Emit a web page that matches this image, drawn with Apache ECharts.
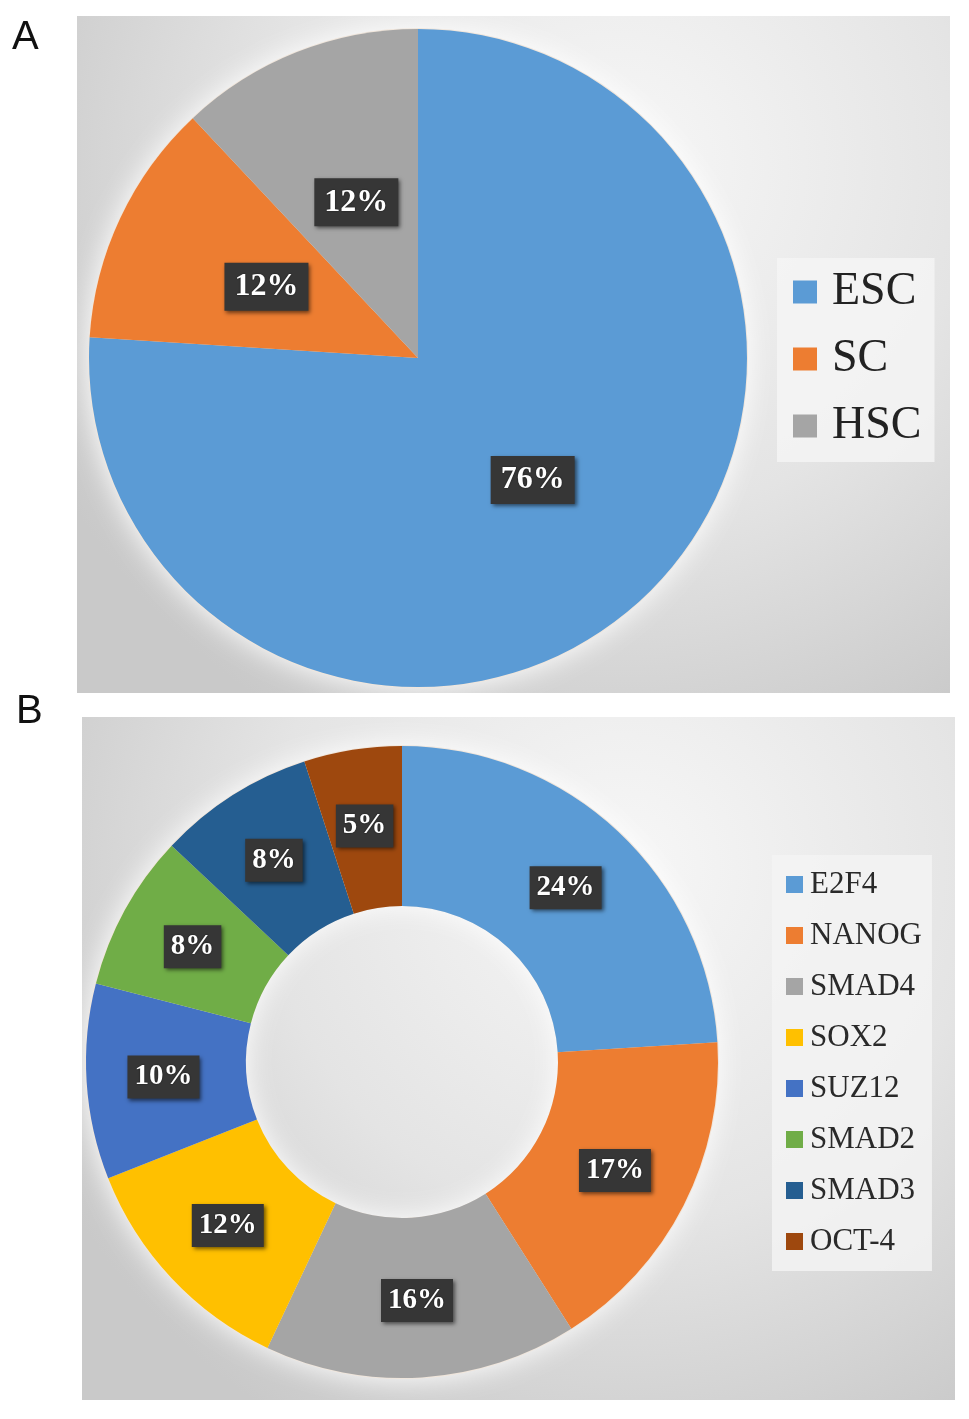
<!DOCTYPE html>
<html>
<head>
<meta charset="utf-8">
<script src="https://cdn.jsdelivr.net/npm/echarts@6/dist/echarts.min.js"></script>
<style>
html,body{margin:0;padding:0;background:#ffffff;}
#chart{width:969px;height:1419px;}
</style>
</head>
<body>
<div id="chart"></div>
<script>
// Panel A data
var catsA = ['ESC', 'SC', 'HSC'];
var valsA = [76, 12, 12];
var colorsA = ['#5B9BD5', '#ED7D31', '#A5A5A5'];

// Panel B data
var catsB = ['E2F4', 'NANOG', 'SMAD4', 'SOX2', 'SUZ12', 'SMAD2', 'SMAD3', 'OCT-4'];
var valsB = [24, 17, 16, 12, 10, 8, 8, 5];
var colorsB = ['#5B9BD5', '#ED7D31', '#A5A5A5', '#FFC000', '#4472C4', '#70AD47', '#255E91', '#9E480E'];

var chart = echarts.init(document.getElementById('chart'), null, {renderer: 'canvas'});

function mkData(cats, vals, colors) {
  return cats.map(function (c, i) {
    return {name: c, value: vals[i], itemStyle: {color: colors[i]}};
  });
}

function labelStyle(fs, pad) {
  return {
    show: true,
    position: 'inside',
    formatter: '{c}%',
    color: '#ffffff',
    fontFamily: 'Liberation Serif',
    fontWeight: 'bold',
    fontSize: fs,
    lineHeight: fs + 2,
    backgroundColor: '#363636',
    padding: pad,
    shadowColor: 'rgba(0,0,0,0.55)',
    shadowBlur: 4,
    shadowOffsetX: 2,
    shadowOffsetY: 2,
    textShadowColor: 'rgba(0,0,0,0.6)',
    textShadowBlur: 2
  };
}

function panelBg(x, y, w, h) {
  return {
    type: 'rect',
    z: -10,
    silent: true,
    shape: {x: x, y: y, width: w, height: h},
    style: {
      fill: new echarts.graphic.RadialGradient(0.62, 0.22, 0.95, [
        {offset: 0, color: '#f7f7f7'},
        {offset: 0.55, color: '#e4e4e4'},
        {offset: 1, color: '#c9c9c9'}
      ])
    }
  };
}

var option = {
  backgroundColor: '#ffffff',
  animation: false,
  graphic: [
    panelBg(77, 16, 873, 677),
    panelBg(82, 717, 873, 683),
    {type: 'text', left: 12, top: 18, style: {text: 'A', fontSize: 40, fontFamily: 'Liberation Sans', fill: '#111'}},
    {type: 'text', left: 16, top: 692, style: {text: 'B', fontSize: 40, fontFamily: 'Liberation Sans', fill: '#111'}}
  ],
  legend: [
    {
      orient: 'vertical',
      left: 777,
      top: 258,
      padding: [11, 13, 13, 16],
      backgroundColor: 'rgba(245,245,245,0.85)',
      data: catsA,
      icon: 'rect',
      itemWidth: 24,
      itemHeight: 23,
      itemGap: 21,
      selectedMode: false,
      textStyle: {fontFamily: 'Liberation Serif', fontSize: 46, color: '#222', padding: [0, 0, 0, 10]}
    },
    {
      orient: 'vertical',
      left: 772,
      top: 855,
      padding: [14, 10, 14, 14],
      backgroundColor: 'rgba(243,243,243,0.85)',
      data: catsB,
      icon: 'rect',
      itemWidth: 17,
      itemHeight: 17,
      itemGap: 20,
      selectedMode: false,
      textStyle: {fontFamily: 'Liberation Serif', fontSize: 31, color: '#2a2a2a', padding: [0, 0, 0, 2]}
    }
  ],
  series: [
    {
      // decorative glow under pie A
      type: 'pie',
      silent: true,
      center: [418, 358],
      radius: 330,
      z: 1,
      label: {show: false},
      labelLine: {show: false},
      itemStyle: {color: '#f0e6dc', shadowBlur: 28, shadowColor: 'rgba(255,255,255,1)'},
      data: [{name: '_glowA', value: 1}]
    },
    {
      name: 'A',
      type: 'pie',
      center: [418, 358],
      radius: 329,
      startAngle: 90,
      clockwise: true,
      z: 2,
      silent: true,
      itemStyle: {borderWidth: 0},
      label: labelStyle(32, [7, 10, 7, 10]),
      labelLine: {show: false},
      data: mkData(catsA, valsA, colorsA)
    },
    {
      // decorative glow under donut B
      type: 'pie',
      silent: true,
      center: [402, 1062],
      radius: [156, 317],
      z: 1,
      label: {show: false},
      labelLine: {show: false},
      itemStyle: {color: '#f0e6dc', shadowBlur: 28, shadowColor: 'rgba(255,255,255,1)'},
      data: [{name: '_glowB', value: 1}]
    },
    {
      name: 'B',
      type: 'pie',
      center: [402, 1062],
      radius: [156, 316],
      startAngle: 90,
      clockwise: true,
      z: 2,
      silent: true,
      itemStyle: {borderWidth: 0},
      label: labelStyle(29, [6, 7, 6, 7]),
      labelLine: {show: false},
      data: mkData(catsB, valsB, colorsB)
    }
  ]
};

chart.setOption(option);
</script>
</body>
</html>
